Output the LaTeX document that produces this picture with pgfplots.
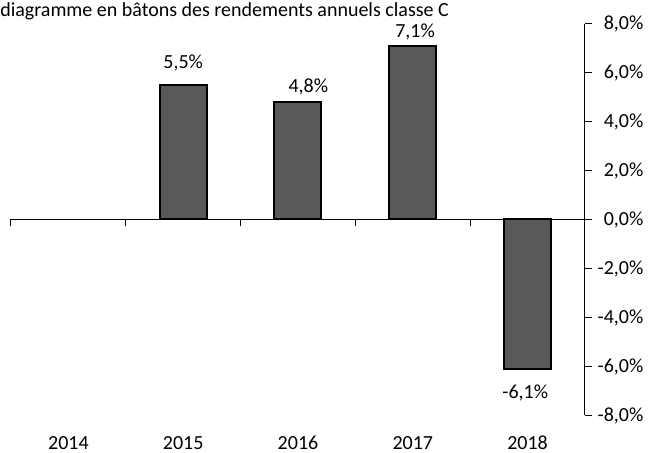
\documentclass[border=0pt]{standalone}
\usepackage{fontspec}
\setmainfont{Carlito}
\usepackage{pgfplots}
\pgfplotsset{compat=1.18}
\definecolor{barfill}{RGB}{89,89,89}
\begin{document}
\fontsize{15}{18}\selectfont
\begin{tikzpicture}
\path[use as bounding box] (0,0) rectangle (493.5pt,339.75pt);
\node[anchor=base west, inner sep=0pt] at (0pt,327pt) {diagramme en bâtons des rendements annuels classe C};
\begin{axis}[
  at={(8.25pt,28.125pt)}, anchor=south west,
  width=430.5pt, height=294pt, scale only axis,
  xmin=-0.5, xmax=4.5, ymin=-8, ymax=8,
  axis y line*=right, axis x line*=middle,
  xtick={-0.5,0.5,1.5,2.5,3.5,4.5}, xticklabels={},
  xtick align=outside, ytick align=outside,
  ytick={-8,-6,-4,-2,0,2,4,6,8},
  yticklabels={{-8,0\%},{-6,0\%},{-4,0\%},{-2,0\%},{0,0\%},{2,0\%},{4,0\%},{6,0\%},{8,0\%}},
  yticklabel style={anchor=east, inner sep=0pt, xshift=38.7pt},
  major tick length=5.25pt,
  axis line style={line width=0.75pt, black},
  tick style={line width=0.75pt, black},
  clip=false,
]
\addplot[ybar, bar width=35.25pt, bar shift=0pt, fill=barfill, draw=black, line width=1.5pt]
  coordinates {(1,5.5) (2,4.8) (3,7.1) (4,-6.1)};
\node[anchor=base, inner sep=0pt] at (axis cs:1.00,6.18) {5,5\%};
\node[anchor=base, inner sep=0pt] at (axis cs:2.09,5.20) {4,8\%};
\node[anchor=base, inner sep=0pt] at (axis cs:3.02,7.41) {7,1\%};
\node[anchor=base, inner sep=0pt] at (axis cs:3.98,-7.29) {-6,1\%};
\node[anchor=base, inner sep=0pt, yshift=-25.4pt] at (axis cs:0,-8) {2014};
\node[anchor=base, inner sep=0pt, yshift=-25.4pt] at (axis cs:1,-8) {2015};
\node[anchor=base, inner sep=0pt, yshift=-25.4pt] at (axis cs:2,-8) {2016};
\node[anchor=base, inner sep=0pt, yshift=-25.4pt] at (axis cs:3,-8) {2017};
\node[anchor=base, inner sep=0pt, yshift=-25.4pt] at (axis cs:4,-8) {2018};
\end{axis}
\end{tikzpicture}
\end{document}
